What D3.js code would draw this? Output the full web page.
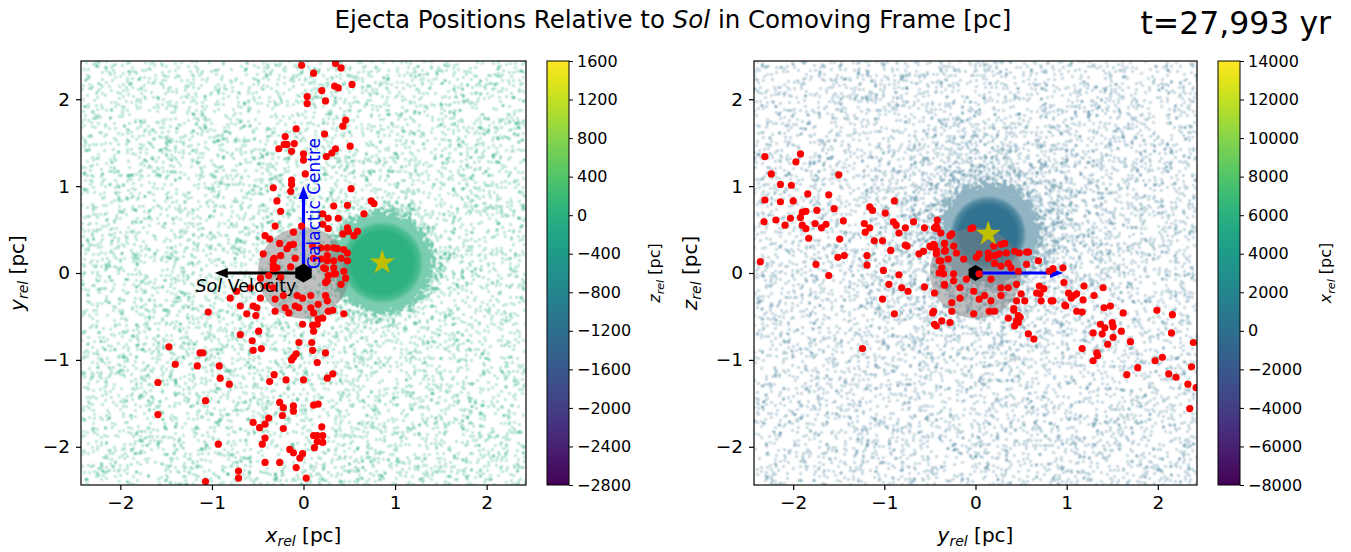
<!DOCTYPE html>
<html>
<head>
<meta charset="utf-8">
<script src="https://cdn.jsdelivr.net/npm/d3@7"></script>
<style>
  body { margin: 0; background: #fff; }
  text { font-family: "DejaVu Sans", sans-serif; fill: #000; }
</style>
</head>
<body>
<svg id="chart" width="1351" height="552"></svg>
<script>

/* Axis ticks (pc) shared by both panels */
var axisTicks = [-2, -1, 0, 1, 2];

/* Colour bar domains and tick labels */
var zDomain = [-2800, 1600];
var zTicks = [1600, 1200, 800, 400, 0, -400, -800, -1200, -1600, -2000, -2400, -2800];
var xDomain = [-8000, 14000];
var xTicks = [14000, 12000, 10000, 8000, 6000, 4000, 2000, 0, -2000, -4000, -6000, -8000];

/* Dense ejecta cloud (centre, radius in pc) and Sol shell radius */
var cloudXY = [0.86, 0.12];
var cloudYZ = [0.14, 0.45];
var cloudRadius = [0.45, 0.42];
var solRadius = 0.5;

/* Arrow tips (pc) */
var galacticCentreTip = [0, 1.0];
var solVelocityTip = [-0.97, 0];
var galacticCentreTipYZ = [0.96, 0];

/* Ejecta reaching the Sol shell, x-y plane */
var ejectaXY = [
  [-0.02,2.39],[0.35,2.41],[0.41,2.36],[0.11,2.30],[0.53,2.17],[0.34,2.15],[0.38,2.13],[0.20,2.10],[0.04,2.03],[0.04,1.95],
  [0.24,1.98],[0.46,1.76],[0.43,1.69],[-0.08,1.66],[0.23,1.60],[-0.20,1.57],[-0.21,1.48],[-0.18,1.48],[-0.10,1.49],[-0.27,1.43],
  [-0.13,1.40],[0.00,1.37],[0.00,1.30],[0.51,1.46],[0.35,1.43],[0.31,1.38],[0.25,1.34],[0.02,1.14],[-0.13,1.07],[-0.13,1.02],
  [0.52,0.97],[-0.33,0.98],[-0.14,0.94],[-0.29,0.83],[-0.25,0.71],[-0.31,0.54],[-0.11,0.47],[-0.02,0.54],[0.74,0.83],[0.77,0.80],
  [0.66,0.68],[0.48,0.78],[0.33,0.77],[0.38,0.63],[0.27,0.63],[0.21,0.68],[0.21,0.56],[0.27,0.51],[0.48,0.52],[0.49,0.48],
  [0.55,0.43],[0.59,0.48],[0.43,0.45],[-0.42,0.43],[-0.37,0.39],[-0.26,0.34],[-0.15,0.32],[-0.11,0.33],[-0.18,0.28],[-0.44,0.22],
  [-0.32,0.17],[-0.25,0.20],[-0.33,0.15],[-0.09,0.17],[-0.33,0.09],[-0.29,0.06],[-0.14,0.07],[-0.33,0.05],[0.26,0.29],[0.33,0.29],
  [0.44,0.27],[0.48,0.23],[0.19,0.29],[0.37,0.28],[0.19,0.16],[0.26,0.14],[0.33,0.14],[0.41,0.17],[0.48,0.14],[0.26,0.20],
  [0.24,0.05],[0.33,0.06],[0.44,0.02],[0.22,0.06],[0.10,0.31],[0.11,0.17],[0.27,-0.03],[0.33,-0.01],[0.46,-0.06],[0.24,-0.11],
  [0.35,-0.01],[0.26,-0.09],[0.41,-0.13],[-0.47,-0.06],[-0.38,-0.03],[-0.25,-0.05],[-0.40,-0.15],[-0.58,-0.17],[-0.73,-0.21],[-0.80,-0.29],
  [-0.31,-0.30],[-0.47,-0.29],[-0.33,-0.17],[-0.22,-0.26],[-0.07,-0.26],[0.08,-0.26],[-0.01,-0.29],[0.24,-0.26],[0.26,-0.32],[0.16,-0.36],
  [-0.69,-0.38],[-0.55,-0.38],[-0.51,-0.40],[-0.05,-0.40],[0.08,-0.40],[-0.09,-0.38],[-0.20,-0.40],[-0.31,-0.44],[-0.16,-0.46],[0.11,-0.46],
  [0.27,-0.44],[0.32,-0.43],[0.44,-0.47],[-0.62,-0.47],[-0.52,-0.49],[-1.04,-0.45],[0.16,-0.53],[0.21,-0.52],[-0.01,-0.59],[0.10,-0.60],
  [0.15,-0.59],[0.11,-0.67],[-0.49,-0.67],[-0.69,-0.71],[-0.56,-0.78],[-0.05,-0.80],[0.09,-0.80],[0.10,-0.89],[-0.55,-0.89],[-0.46,-0.87],
  [-1.47,-0.85],[-1.13,-0.92],[-1.10,-0.92],[-0.08,-0.93],[-0.11,-0.97],[-0.13,-1.00],[0.24,-0.92],[0.15,-1.03],[-1.40,-1.05],[-1.16,-1.07],
  [-0.92,-1.07],[-0.91,-1.21],[-0.81,-1.28],[-1.59,-1.26],[-0.32,-1.17],[-0.37,-1.25],[-0.19,-1.23],[0.00,-1.23],[0.26,-1.21],[0.32,-1.16],
  [-1.07,-1.47],[-0.26,-1.49],[-0.22,-1.55],[-0.11,-1.53],[-0.11,-1.59],[0.11,-1.52],[0.16,-1.51],[-0.23,-1.64],[-1.59,-1.63],[-0.38,-1.67],
  [-0.42,-1.74],[-0.55,-1.72],[-0.48,-1.78],[-0.22,-1.79],[0.20,-1.77],[0.11,-1.87],[0.15,-1.87],[0.21,-1.87],[0.15,-1.94],[0.21,-1.95],
  [0.12,-2.01],[-0.42,-1.90],[-0.45,-1.97],[-0.93,-1.97],[-0.15,-2.03],[-0.11,-2.07],[-0.01,-2.08],[-0.04,-2.13],[-0.42,-2.18],[-0.26,-2.18],
  [-0.08,-2.24],[-0.71,-2.28],[-0.71,-2.36],[0.03,-2.36],[-1.07,-2.40]
];

/* Ejecta reaching the Sol shell, y-z plane */
var ejectaYZ = [
  [-2.31,1.34],[-1.92,1.37],[-1.97,1.28],[-2.24,1.14],[-2.14,1.02],[-2.02,1.01],[-1.50,1.13],[-2.31,0.84],[-2.14,0.82],[-2.00,0.83],
  [-1.84,0.91],[-1.61,0.90],[-1.55,0.74],[-1.74,0.72],[-1.90,0.70],[-1.86,0.71],[-1.92,0.64],[-2.03,0.63],[-2.32,0.59],[-2.19,0.61],
  [-2.09,0.55],[-1.90,0.55],[-1.86,0.51],[-1.76,0.57],[-1.69,0.52],[-1.64,0.56],[-1.83,0.40],[-1.45,0.60],[-1.49,0.39],[-1.44,0.20],
  [-1.51,0.18],[-1.75,0.10],[-2.36,0.13],[-1.61,-0.03],[-1.16,0.76],[-1.13,0.72],[-0.99,0.69],[-0.89,0.83],[-1.22,0.57],[-1.16,0.52],
  [-1.21,0.47],[-0.90,0.59],[-0.87,0.55],[-0.84,0.46],[-0.77,0.52],[-0.68,0.59],[-0.56,0.52],[-1.11,0.37],[-1.02,0.37],[-0.93,0.26],
  [-0.77,0.32],[-1.19,0.20],[-1.19,0.09],[-1.01,0.03],[-0.84,-0.02],[-0.95,-0.13],[-0.81,-0.17],[-0.74,-0.21],[-0.56,-0.16],[-1.02,-0.30],
  [-0.89,-0.47],[-0.47,-0.46],[-0.45,-0.23],[-0.62,0.22],[-0.57,0.25],[-0.49,0.30],[-0.45,0.32],[-0.43,0.26],[-0.42,0.61],[-0.45,0.52],
  [-0.33,0.26],[-0.38,0.46],[-0.37,0.06],[-0.35,-0.01],[-0.34,-0.14],[-0.40,0.14],[-0.43,0.54],[-0.42,0.51],[-0.28,0.43],[-0.26,0.45],
  [-0.05,0.51],[-0.03,0.52],[-0.75,0.31],[-0.50,0.31],[-0.46,0.33],[-0.34,0.34],[-0.24,0.31],[-0.34,0.25],[-0.43,0.22],[-0.21,0.23],
  [-0.13,0.16],[-0.30,0.16],[-0.38,0.14],[0.01,0.18],[0.04,0.22],[0.14,0.23],[0.20,0.31],[0.28,0.33],[0.32,0.34],[0.14,0.17],
  [0.21,0.20],[0.26,0.22],[0.34,0.23],[0.43,0.25],[0.48,0.23],[0.56,0.24],[0.58,0.24],[0.21,0.11],[0.28,0.08],[0.36,0.11],
  [0.39,0.06],[0.47,0.02],[0.56,0.10],[0.69,0.14],[0.85,0.05],[0.81,0.02],[0.96,0.06],[0.17,-0.07],[0.28,-0.17],[0.36,-0.17],
  [0.45,-0.13],[0.50,-0.24],[0.45,-0.32],[0.28,-0.26],[0.17,-0.32],[0.10,-0.26],[0.04,-0.30],[-0.02,-0.21],[-0.17,-0.17],[-0.17,-0.29],
  [-0.26,-0.34],[-0.34,-0.13],[-0.24,-0.01],[-0.24,-0.09],[-0.10,-0.07],[0.04,-0.01],[-0.40,0.00],[-0.46,-0.44],[-0.26,-0.44],[-0.02,-0.47],
  [0.15,-0.44],[0.21,-0.44],[0.42,-0.41],[0.36,-0.52],[0.45,-0.55],[0.47,-0.49],[0.67,-0.23],[0.70,-0.15],[0.75,-0.18],[0.72,-0.32],
  [0.83,-0.32],[0.97,-0.11],[1.02,-0.23],[1.05,-0.29],[1.08,-0.26],[0.99,-0.38],[1.11,-0.44],[-0.45,-0.59],[-0.37,-0.55],[-0.28,-0.57],
  [1.19,-0.15],[1.40,-0.17],[1.11,-0.24],[1.18,-0.31],[1.30,-0.26],[0.85,-0.32],[0.98,-0.37],[1.17,-0.45],[1.41,-0.40],[1.48,-0.38],
  [1.62,-0.46],[1.99,-0.43],[2.16,-0.48],[1.37,-0.59],[1.42,-0.63],[1.50,-0.57],[1.51,-0.62],[1.29,-0.69],[1.39,-0.70],[1.60,-0.67],
  [1.51,-0.74],[1.45,-0.82],[1.70,-0.79],[2.15,-0.69],[2.39,-0.80],[1.17,-0.87],[1.33,-0.92],[1.34,-0.95],[1.29,-1.01],[1.97,-1.01],
  [2.05,-0.97],[1.78,-1.09],[1.66,-1.17],[2.12,-1.16],[2.20,-1.20],[2.37,-1.08],[2.33,-1.28],[2.42,-1.32],[2.35,-1.56],[0.58,-0.70],
  [0.64,-0.76],[0.43,-0.61],[0.47,-0.57],[0.49,-0.51],[0.42,-0.43],[0.54,-0.32],[0.71,-0.24],[-1.24,-0.87],[-0.43,-0.61]
];

var svg = d3.select("#chart");
var defs = svg.append("defs");

/* Matplotlib-like hexagon marker */
function hexPath(r) {
  var pts = d3.range(6).map((i) => {
    var a = Math.PI / 2 + i * Math.PI / 3;
    return [r * Math.cos(a), r * Math.sin(a)];
  });
  return "M" + pts.join("L") + "Z";
}

/* Filled arrow polygon between two pixel points */
function arrowPath(x0, y0, x1, y1, w, hw, hl) {
  var dx = x1 - x0, dy = y1 - y0, len = Math.sqrt(dx * dx + dy * dy);
  var ux = dx / len, uy = dy / len, nx = -uy, ny = ux;
  var bx = x1 - ux * hl, by = y1 - uy * hl;
  var p = [
    [x0 + nx * w / 2, y0 + ny * w / 2],
    [bx + nx * w / 2, by + ny * w / 2],
    [bx + nx * hw / 2, by + ny * hw / 2],
    [x1, y1],
    [bx - nx * hw / 2, by - ny * hw / 2],
    [bx - nx * w / 2, by - ny * w / 2],
    [x0 - nx * w / 2, y0 - ny * w / 2]
  ];
  return "M" + p.join("L") + "Z";
}

/* Label like "x_rel [pc]" with italic symbol and subscript */
function relLabel(sel, sym, size) {
  sel.append("tspan").attr("font-style", "italic").text(sym);
  sel.append("tspan").attr("font-style", "italic").attr("font-size", size * 0.7)
    .attr("dy", size * 0.22).text("rel");
  sel.append("tspan").attr("dy", -size * 0.22).text(" [pc]");
}

function panel(o) {

  var x = d3.scaleLinear().domain([-2.43, 2.43]).range([o.left, o.right]);
  var y = d3.scaleLinear().domain([-2.44, 2.44]).range([485, 61]);
  var color = d3.scaleSequential(d3.interpolateViridis).domain(o.cDomain);
  var fieldColor = d3.rgb(color(o.cValue));

  var clipId = "clip-" + o.id;
  defs.append("clipPath").attr("id", clipId)
    .append("rect").attr("x", o.left).attr("y", 61)
    .attr("width", o.right - o.left).attr("height", 485 - 61);

  /* Density of the particle field around the dense cloud */
  var gradId = "dens-" + o.id;
  var g = defs.append("radialGradient").attr("id", gradId)
    .attr("gradientUnits", "userSpaceOnUse")
    .attr("cx", x(o.cloud[0])).attr("cy", y(o.cloud[1]))
    .attr("r", x(o.haloR) - x(0));
  o.haloStops.forEach((s) => {
    g.append("stop").attr("offset", s[0]).attr("stop-color", "#000").attr("stop-opacity", s[1]);
  });

  /* Stipple texture for the particle field: sparse noise peaks softened into dots */
  var fId = "field-" + o.id;
  var f = defs.append("filter").attr("id", fId)
    .attr("filterUnits", "userSpaceOnUse")
    .attr("x", o.left).attr("y", 61).attr("width", o.right - o.left).attr("height", 424)
    .attr("color-interpolation-filters", "sRGB");
  f.append("feTurbulence").attr("type", "fractalNoise").attr("baseFrequency", 0.77)
    .attr("numOctaves", 2).attr("seed", o.seed).attr("result", "noise");
  f.append("feColorMatrix").attr("in", "noise").attr("type", "matrix")
    .attr("values", "0 0 0 0 0  0 0 0 0 0  0 0 0 0 0  1 0 0 0 0").attr("result", "na");
  f.append("feComposite").attr("in", "na").attr("in2", "SourceAlpha").attr("operator", "arithmetic")
    .attr("k1", 0).attr("k2", 1).attr("k3", 0.5).attr("k4", -o.threshold).attr("result", "sum");
  f.append("feColorMatrix").attr("in", "sum").attr("type", "matrix")
    .attr("values", "0 0 0 0 0  0 0 0 0 0  0 0 0 0 0  0 0 0 250 0")
    .attr("result", "seeds");
  f.append("feGaussianBlur").attr("in", "seeds").attr("stdDeviation", 0.9).attr("result", "soft");
  f.append("feColorMatrix").attr("in", "soft").attr("type", "matrix")
    .attr("values", `0 0 0 0 ${fieldColor.r / 255}  0 0 0 0 ${fieldColor.g / 255}  0 0 0 0 ${fieldColor.b / 255}  0 0 0 4.2 0`);

  var plot = svg.append("g").attr("clip-path", `url(#${clipId})`);

  plot.append("rect")
    .attr("x", o.left).attr("y", 61)
    .attr("width", o.right - o.left).attr("height", 424)
    .attr("fill", `url(#${gradId})`)
    .attr("filter", `url(#${fId})`)
    .attr("opacity", o.fieldOpacity);

  /* Solid core of the cloud */
  var coreId = "core-" + o.id;
  var cg = defs.append("radialGradient").attr("id", coreId);
  [[0, 1], [0.75, 0.95], [0.9, 0.6], [1, 0]].forEach((s) => {
    cg.append("stop").attr("offset", s[0]).attr("stop-color", fieldColor).attr("stop-opacity", s[1]);
  });
  plot.append("circle")
    .attr("cx", x(o.cloud[0])).attr("cy", y(o.cloud[1]))
    .attr("r", x(o.cloudR) - x(0))
    .attr("fill", `url(#${coreId})`);

  /* Sol shell */
  plot.append("circle")
    .attr("cx", x(0)).attr("cy", y(0))
    .attr("r", x(solRadius) - x(0))
    .attr("fill", "#808080").attr("fill-opacity", 0.5);

  if (o.markerBelow) {
    plot.append("path").attr("d", hexPath(8))
      .attr("transform", `translate(${x(0)},${y(0)})`).attr("fill", "#000");
  }

  /* Arrows */
  o.arrows.forEach((a) => {
    plot.append("path")
      .attr("d", arrowPath(x(0), y(0), x(a.tip[0]), y(a.tip[1]), 3.2, 10, 13))
      .attr("fill", a.color);
  });

  /* Ejecta */
  plot.append("g").selectAll("circle")
    .data(o.points)
    .enter().append("circle")
    .attr("cx", (d) => x(d[0]))
    .attr("cy", (d) => y(d[1]))
    .attr("r", 3.6)
    .attr("fill", "#ff0000");

  if (!o.markerBelow) {
    plot.append("path").attr("d", hexPath(9.5))
      .attr("transform", `translate(${x(0)},${y(0)})`).attr("fill", "#000");
  }

  /* Cloud centre */
  plot.append("path")
    .attr("d", d3.symbol(d3.symbolStar, 200)())
    .attr("transform", `translate(${x(o.cloud[0])},${y(o.cloud[1])})`)
    .attr("fill", "#bfbf00");

  if (o.annotate) o.annotate(plot, x, y);

  /* Axes */
  var ax = svg.append("g").attr("transform", "translate(0,485)")
    .call(d3.axisBottom(x).tickValues(axisTicks).tickSize(5).tickPadding(6).tickFormat(d3.format("d")));
  var ay = svg.append("g").attr("transform", `translate(${o.left},0)`)
    .call(d3.axisLeft(y).tickValues(axisTicks).tickSize(5).tickPadding(6).tickFormat(d3.format("d")));
  [ax, ay].forEach((a) => {
    a.select(".domain").remove();
    a.selectAll("line").attr("stroke", "#000").attr("stroke-width", 1.2);
    a.selectAll("text").attr("font-size", 18.5).attr("font-family", "DejaVu Sans");
  });

  svg.append("rect")
    .attr("x", o.left).attr("y", 61)
    .attr("width", o.right - o.left).attr("height", 424)
    .attr("fill", "none").attr("stroke", "#000").attr("stroke-width", 1.2);

  relLabel(svg.append("text").attr("x", (o.left + o.right) / 2).attr("y", 542)
    .attr("text-anchor", "middle").attr("font-size", 20), o.xLabel, 20);
  relLabel(svg.append("text").attr("transform", `translate(${o.yLabelX},273) rotate(-90)`)
    .attr("text-anchor", "middle").attr("font-size", 20), o.yLabel, 20);

  /* Colour bar */
  var cbLeft = o.right + 21, cbW = 22;
  var cy = d3.scaleLinear().domain(o.cDomain).range([485, 61]);
  var cbId = "cb-" + o.id;
  var lg = defs.append("linearGradient").attr("id", cbId)
    .attr("x1", 0).attr("y1", 1).attr("x2", 0).attr("y2", 0);
  d3.range(0, 1.0001, 0.05).forEach((t) => {
    lg.append("stop").attr("offset", t).attr("stop-color", d3.interpolateViridis(t));
  });
  svg.append("rect")
    .attr("x", cbLeft).attr("y", 61).attr("width", cbW).attr("height", 424)
    .attr("fill", `url(#${cbId})`).attr("stroke", "#000").attr("stroke-width", 1);
  var ac = svg.append("g").attr("transform", `translate(${cbLeft + cbW},0)`)
    .call(d3.axisRight(cy).tickValues(o.cTicks).tickSize(4).tickPadding(4).tickFormat((d) => d < 0 ? "\u2212" + Math.abs(d) : d));
  ac.select(".domain").remove();
  ac.selectAll("line").attr("stroke", "#000");
  ac.selectAll("text").attr("font-size", 16).attr("font-family", "DejaVu Sans");

  relLabel(svg.append("text").attr("transform", `translate(${o.cLabelX},273) rotate(-90)`)
    .attr("text-anchor", "middle").attr("font-size", 16), o.cLabel, 16);
}

/* Left: x-y plane coloured by z */
panel({
  id: "xy", left: 81, right: 526,
  cloud: cloudXY, cloudR: cloudRadius[0], haloR: 0.75, seed: 4,
  haloStops: [[0, 1], [0.5, 0.8], [0.6, 0.5], [0.7, 0.28], [0.82, 0.1], [1, 0]],
  threshold: 0.707, fieldOpacity: 0.62,
  cDomain: zDomain, cTicks: zTicks, cValue: 0,
  points: ejectaXY, markerBelow: false,
  xLabel: "x", yLabel: "y", cLabel: "z", yLabelX: 24, cLabelX: 660,
  arrows: [{tip: galacticCentreTip, color: "#0000ff"}, {tip: solVelocityTip, color: "#000"}],
  annotate: function(plot, x, y) {
    plot.append("text")
      .attr("transform", `translate(${x(0) + 16},${y(0) - 4}) rotate(-90)`)
      .attr("font-size", 17).style("fill", "#0000ff")
      .text("Galactic Centre");
    var t = plot.append("text").attr("x", x(-1.18)).attr("y", y(0) + 19).attr("font-size", 17.5);
    t.append("tspan").attr("font-style", "italic").text("Sol");
    t.append("tspan").text(" Velocity");
  }
});

/* Right: y-z plane coloured by x */
panel({
  id: "yz", left: 754, right: 1197,
  cloud: cloudYZ, cloudR: cloudRadius[1], haloR: 1.6, seed: 9,
  haloStops: [[0, 1], [0.24, 0.75], [0.29, 0.45], [0.34, 0.25], [0.42, 0.1], [0.6, 0.05], [1, 0]],
  threshold: 0.707, fieldOpacity: 0.52,
  cDomain: xDomain, cTicks: xTicks, cValue: 0,
  points: ejectaYZ, markerBelow: true,
  xLabel: "y", yLabel: "z", cLabel: "x", yLabelX: 697, cLabelX: 1331,
  arrows: [{tip: galacticCentreTipYZ, color: "#0000ff"}]
});

/* Titles */
var title = svg.append("text").attr("x", 673).attr("y", 28)
  .attr("text-anchor", "middle").attr("font-size", 24.5);
title.append("tspan").text("Ejecta Positions Relative to ");
title.append("tspan").attr("font-style", "italic").text("Sol");
title.append("tspan").text(" in Comoving Frame [pc]");

svg.append("text").attr("x", 1331).attr("y", 34)
  .attr("text-anchor", "end").attr("font-size", 31.5)
  .text("t=27,993 yr");

</script>
</body>
</html>
